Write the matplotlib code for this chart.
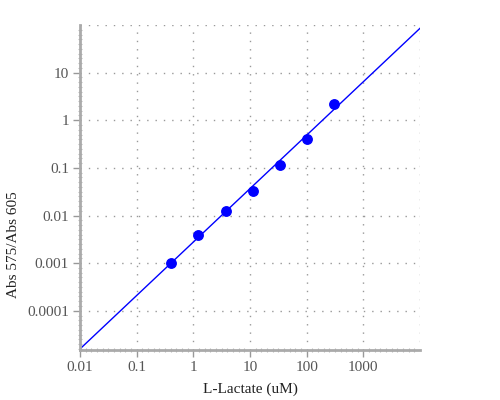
import numpy as np
import matplotlib.pyplot as plt
from matplotlib.ticker import FixedLocator, NullFormatter

# standard curve points
lactate = [0.41, 1.23, 3.7, 11.1, 33.3, 100, 300]
abs_ratio = [0.001, 0.0039, 0.0127, 0.033, 0.114, 0.40, 2.2]

# power-law fit  y = a * x^b
fit_a = 0.00277
fit_b = 1.122

x_ticks = [0.01, 0.1, 1, 10, 100, 1000]
x_ticklabels = ["0.01", "0.1", "1", "10", "100", "1000"]
y_ticks = [0.0001, 0.001, 0.01, 0.1, 1, 10]
y_ticklabels = ["0.0001", "0.001", "0.01", "0.1", "1", "10"]

xlim = (0.01, 10000)
ylim = (1.5e-5, 100)

plt.rcParams['font.family'] = ['Liberation Serif', 'DejaVu Serif']

fig = plt.figure(figsize=(5, 4), dpi=100)
ax = fig.add_axes([0.16, 0.125, 0.68, 0.8125])
ax.set_xscale('log')
ax.set_yscale('log')
ax.set_xlim(*xlim)
ax.set_ylim(*ylim)

grid_kw = dict(color='#999999', linestyle=(0, (1, 5)), linewidth=1, zorder=0)
for v in x_ticks[1:] + [xlim[1]]:
    ax.axvline(v, **grid_kw)
for v in y_ticks + [ylim[1]]:
    ax.axhline(v, **grid_kw)

xs = np.array(xlim)
ax.plot(xs, fit_a * xs ** fit_b, color='#0000ff', linewidth=1, zorder=2)
ax.plot(lactate, abs_ratio, 'o', color='#0000ff', markersize=6.8, zorder=3)

ax.xaxis.set_major_locator(FixedLocator(x_ticks))
ax.set_xticklabels(x_ticklabels)
ax.yaxis.set_major_locator(FixedLocator(y_ticks))
ax.set_yticklabels(y_ticklabels)

minor_x = [10 ** (k + i / 10) for k in range(-2, 4) for i in range(1, 10)]
minor_y = [10 ** (k + i / 10) for k in range(-5, 2) for i in range(1, 10)]
minor_y = [v for v in minor_y if ylim[0] < v < ylim[1]]
ax.xaxis.set_minor_locator(FixedLocator(minor_x))
ax.yaxis.set_minor_locator(FixedLocator(minor_y))
ax.xaxis.set_minor_formatter(NullFormatter())
ax.yaxis.set_minor_formatter(NullFormatter())

ax.tick_params(which='major', direction='out', length=5, width=1,
               color='#999999', labelcolor='#555555', labelsize=11, pad=3)
ax.tick_params(which='minor', direction='inout', length=2.5, width=0.8,
               color='#bbbbbb')

for s in ['top', 'right']:
    ax.spines[s].set_visible(False)
for s in ['left', 'bottom']:
    ax.spines[s].set_color('#aaaaaa')
    ax.spines[s].set_linewidth(2)

ax.set_xlabel("L-Lactate (uM)", fontsize=11, color='#222222')
ax.set_ylabel("Abs 575/Abs 605", fontsize=11, color='#222222')
ax.xaxis.set_label_coords(0.5, -0.10)
ax.yaxis.set_label_coords(-0.175, 0.323)

fig.savefig("out.png", dpi=100)
